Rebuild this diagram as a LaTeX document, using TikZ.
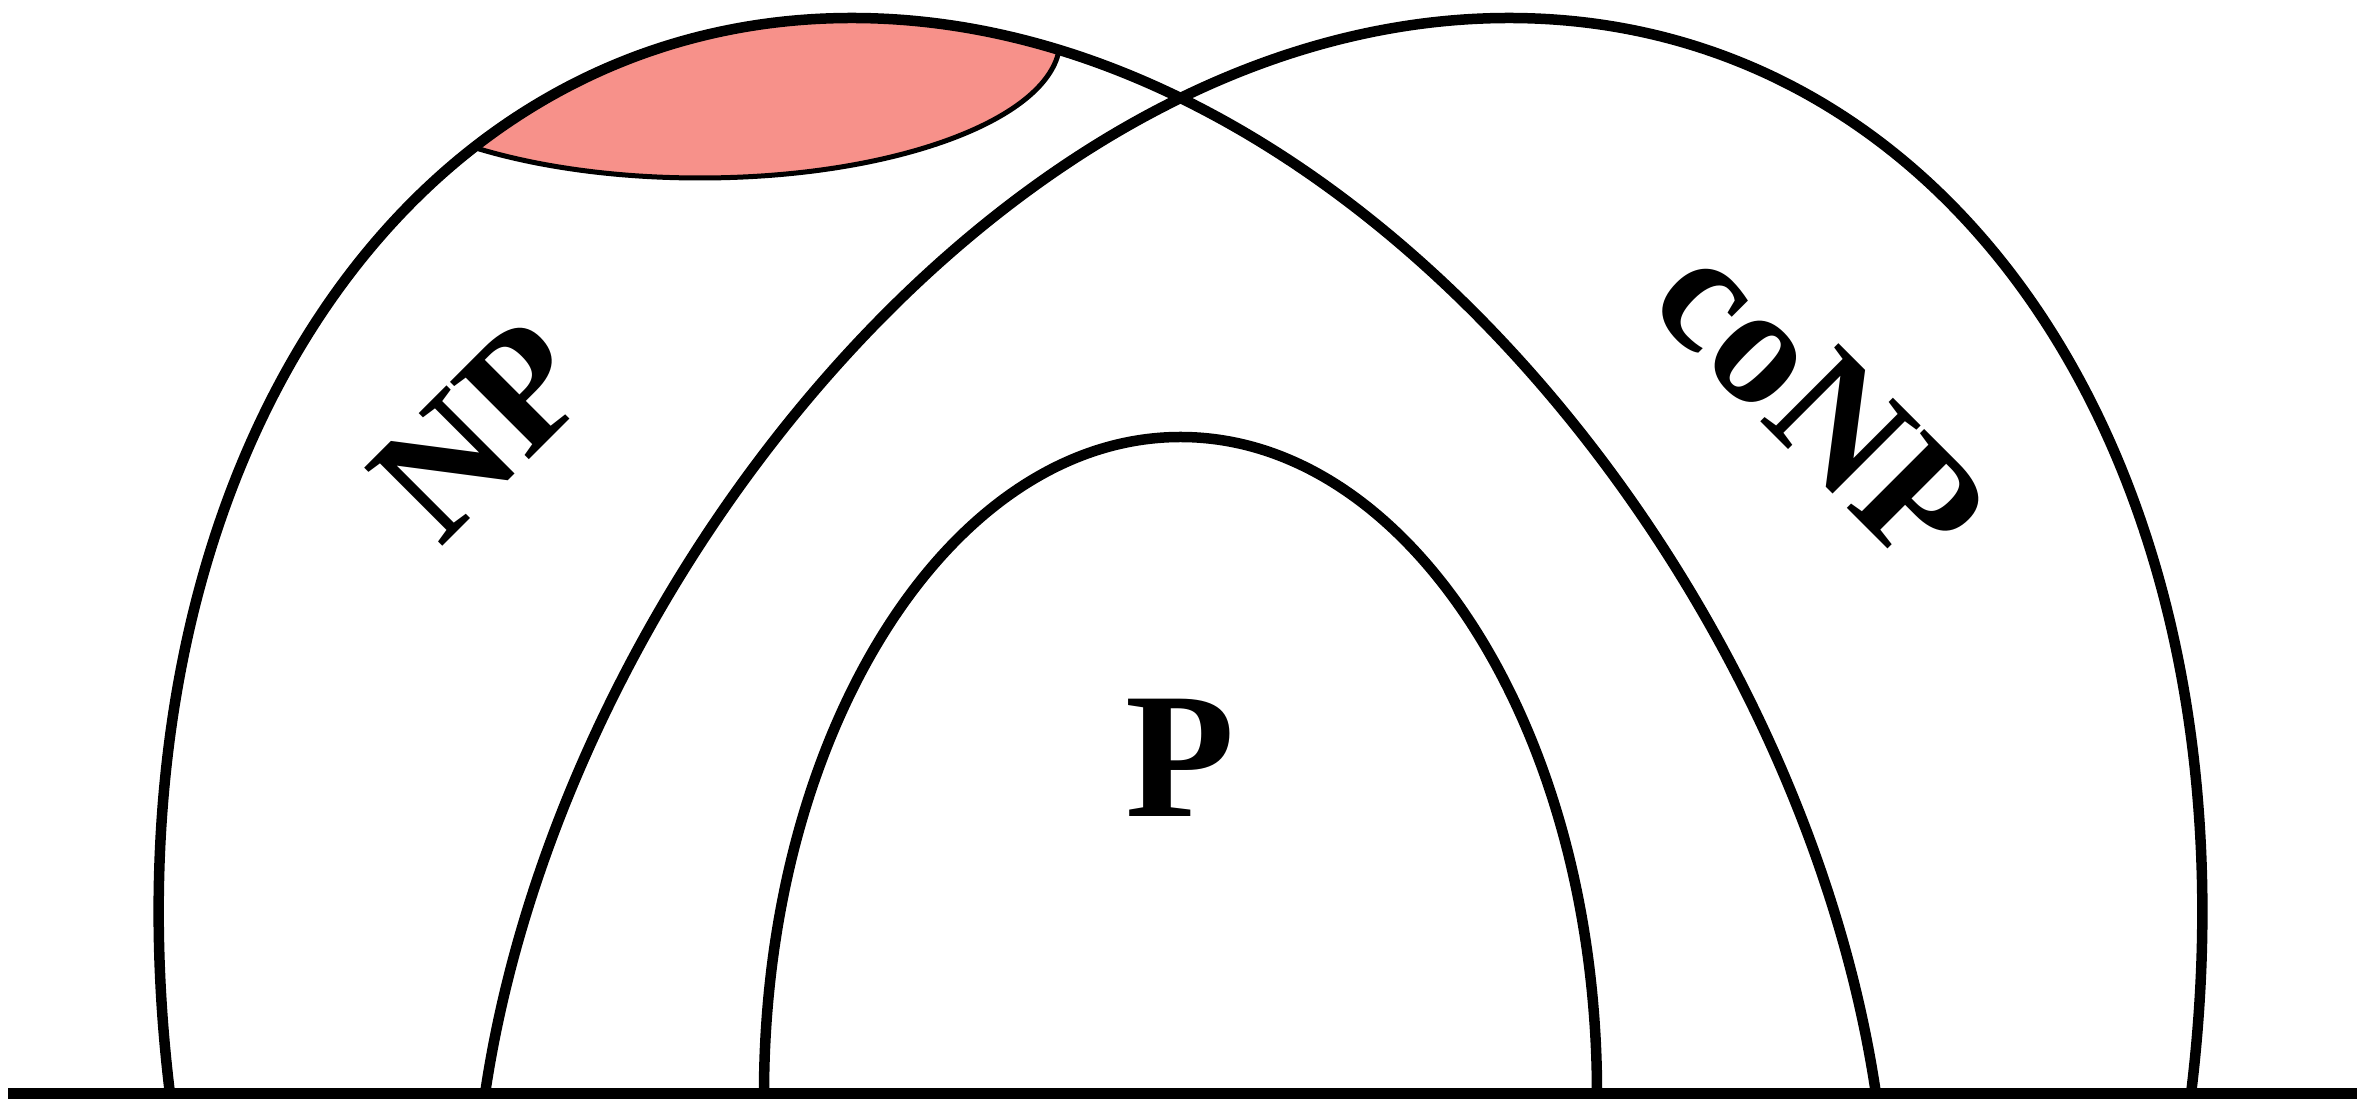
\documentclass[tikz,border=0pt]{standalone}
\usepackage{fontspec}
\setmainfont{Liberation Serif}
\usepackage{tikz}
\definecolor{HardRed}{HTML}{F7918A}

% outline of the NP region, reused for the clip
\newcommand{\nparch}{(1.70,0.06) .. controls (0.95,6.20) and (4.00,10.82) .. (8.52,10.82) .. controls (13.50,10.82) and (18.00,5.20) .. (18.76,0.06)}

\begin{document}
\begin{tikzpicture}[classline/.style={black,line width=1.05mm}, every node/.style={font=\fontsize{48}{48}\selectfont\bfseries,inner sep=0pt}]
    \useasboundingbox (0,0) rectangle (23.64,11);
    % shaded part of NP
    \begin{scope}
      \clip \nparch -- cycle;
      \filldraw[fill=HardRed,line width=0.5mm] (7.00,10.60) ellipse [x radius=3.60, y radius=1.38];
    \end{scope}
    \draw[classline] \nparch;
    \draw[classline] (21.91,0.06) .. controls (22.66,6.20) and (19.61,10.82) .. (15.09,10.82) .. controls (10.11,10.82) and (5.61,5.20) .. (4.85,0.06);
    \draw[classline] (7.64,0.06) arc[start angle=180, end angle=0, x radius=4.165, y radius=6.57];
    \draw[black,line width=1.1mm] (0.08,0.06) -- (23.57,0.06);
    \node[rotate=45] (np) at (4.81,6.70) {NP};
    \node[rotate=-45] (conp) at (18.20,6.96) {coNP};
    \node[font=\fontsize{51}{51}\selectfont\bfseries] (p) at (11.80,3.42) {P};
  \end{tikzpicture}
\end{document}
